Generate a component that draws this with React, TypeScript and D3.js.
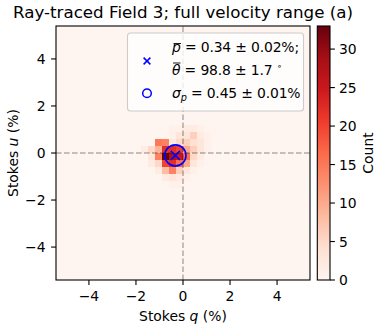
import React from "react";
import * as d3 from "d3";

const W = 389;
const H = 330;
const plot = { left: 56, right: 310, top: 26, bottom: 280 };
const cbar = { left: 317.3, right: 330 };

// 2D histogram of Stokes q/u (%), bins of 0.3%
const binSize = 0.3;
const qBinLeft = [-1.8, -1.5, -1.2, -0.9, -0.6, -0.3, 0.0, 0.3, 0.6, 0.9, 1.2];
const uBinTop = [1.5, 1.2, 0.9, 0.6, 0.3, 0.0, -0.3, -0.6, -0.9, -1.2];
const counts = [
  [0, 0, 0, 0, 0, 0, 0, 0, 0, 0, 0],
  [0, 0, 0, 0, 1, 1, 2, 2, 1, 0, 0],
  [0, 0, 0, 0, 1, 3, 3, 6, 2, 1, 0],
  [0, 0, 15, 14, 2, 5, 6, 4, 3, 1, 0],
  [2, 5, 9, 22, 22, 20, 10, 6, 3, 1, 0],
  [0, 3, 14, 33, 28, 25, 16, 5, 2, 0, 0],
  [0, 2, 5, 20, 22, 16, 10, 3, 1, 0, 0],
  [0, 0, 2, 8, 14, 6, 3, 1, 0, 0, 0],
  [0, 0, 0, 2, 3, 2, 1, 0, 0, 0, 0],
  [0, 0, 0, 0, 1, 1, 0, 0, 0, 0, 0],
];

const meanP = 0.34;
const meanTheta = 98.8; // degrees
const sigmaP = 0.45;

const axisTicks = [-4, -2, 0, 2, 4];
const cbarTicks = [0, 5, 10, 15, 20, 25, 30];
const countMax = 33;
const extent = 5.4;

const font = "DejaVu Sans";
const fmt = (d: number) => (d < 0 ? `\u2212${-d}` : `${d}`);

export default function App() {
  const x = d3.scaleLinear().domain([-extent, extent]).range([plot.left, plot.right]);
  const y = d3.scaleLinear().domain([-extent, extent]).range([plot.bottom, plot.top]);
  const cy = d3.scaleLinear().domain([0, countMax]).range([plot.bottom, plot.top]);
  const reds = d3.schemeReds[9];
  const color = d3
    .scaleLinear<string>()
    .domain(reds.map((_, i) => (i * countMax) / 8))
    .range(reds)
    .interpolate(d3.interpolateRgb);

  // mean polarisation position
  const twoTheta = (2 * meanTheta * Math.PI) / 180;
  const mq = meanP * Math.cos(twoTheta);
  const mu = meanP * Math.sin(twoTheta);
  const mx = x(mq);
  const my = y(mu);
  const xs = 4.6;
  const rPx = x(sigmaP) - x(0);

  const cells: { q: number; u: number; c: number }[] = [];
  counts.forEach((row, i) =>
    row.forEach((c, j) => {
      if (c > 0) cells.push({ q: qBinLeft[j], u: uBinTop[i], c });
    })
  );

  const tickLen = 4.9;
  const lx = 147;

  return (
    <svg
      width={W}
      height={H}
      style={{ position: "absolute", left: 0, top: 0, background: "#fff" }}
      fontFamily={font}
    >
      <defs>
        <linearGradient id="cbarGrad" x1="0" y1="1" x2="0" y2="0">
          {reds.map((c, i) => (
            <stop key={i} offset={i / 8} stopColor={c} />
          ))}
        </linearGradient>
      </defs>

      <text x={(plot.left + plot.right) / 2} y={17.5} fontSize={16.7} textAnchor="middle">
        Ray-traced Field 3; full velocity range (a)
      </text>

      {/* heatmap */}
      <rect
        x={plot.left}
        y={plot.top}
        width={plot.right - plot.left}
        height={plot.bottom - plot.top}
        fill={color(0)}
      />
      {cells.map((d, i) => (
        <rect
          key={i}
          x={x(d.q)}
          y={y(d.u)}
          width={x(d.q + binSize) - x(d.q)}
          height={y(d.u - binSize) - y(d.u)}
          fill={color(d.c)}
          shapeRendering="crispEdges"
        />
      ))}

      {/* zero lines */}
      <line
        x1={x(0)}
        x2={x(0)}
        y1={plot.bottom}
        y2={plot.top}
        stroke="#000"
        strokeOpacity={0.3}
        strokeWidth={1.5}
        strokeDasharray="5.6 2.4"
      />
      <line
        x1={plot.left}
        x2={plot.right}
        y1={y(0)}
        y2={y(0)}
        stroke="#000"
        strokeOpacity={0.3}
        strokeWidth={1.5}
        strokeDasharray="5.6 2.4"
      />

      {/* mean marker and sigma circle */}
      <circle cx={mx} cy={my} r={rPx} fill="none" stroke="blue" strokeWidth={1.6} />
      <path
        d={`M${mx - xs},${my - xs}L${mx + xs},${my + xs}M${mx - xs},${my + xs}L${mx + xs},${my - xs}`}
        stroke="blue"
        strokeWidth={1.6}
      />

      {/* axes frame */}
      <rect
        x={plot.left}
        y={plot.top}
        width={plot.right - plot.left}
        height={plot.bottom - plot.top}
        fill="none"
        stroke="#000"
        strokeWidth={1.1}
      />

      {/* x ticks */}
      {axisTicks.map((t) => (
        <g key={"x" + t}>
          <line x1={x(t)} x2={x(t)} y1={plot.bottom} y2={plot.bottom + tickLen} stroke="#000" strokeWidth={1.1} />
          <text x={x(t)} y={301} fontSize={13.9} textAnchor="middle">
            {fmt(t)}
          </text>
        </g>
      ))}
      <text x={(plot.left + plot.right) / 2} y={321} fontSize={13.9} textAnchor="middle">
        Stokes <tspan fontStyle="italic">q</tspan> (%)
      </text>

      {/* y ticks */}
      {axisTicks.map((t) => (
        <g key={"y" + t}>
          <line x1={plot.left - tickLen} x2={plot.left} y1={y(t)} y2={y(t)} stroke="#000" strokeWidth={1.1} />
          <text x={45.5} y={y(t)} dy="0.36em" fontSize={13.9} textAnchor="end">
            {fmt(t)}
          </text>
        </g>
      ))}
      <text
        transform={`translate(18,${(plot.top + plot.bottom) / 2}) rotate(-90)`}
        fontSize={13.9}
        textAnchor="middle"
      >
        Stokes <tspan fontStyle="italic">u</tspan> (%)
      </text>

      {/* legend */}
      <rect x={127.5} y={33} width={176} height={78} rx={3} fill="#fff" fillOpacity={0.8} stroke="#ccc" strokeWidth={1.1} />
      <path
        d={`M${lx - 3.4},${61 - 3.4}L${lx + 3.4},${61 + 3.4}M${lx - 3.4},${61 + 3.4}L${lx + 3.4},${61 - 3.4}`}
        stroke="blue"
        strokeWidth={1.5}
      />
      <circle cx={lx} cy={93.3} r={4.3} fill="none" stroke="blue" strokeWidth={1.5} />
      <g fontSize={13.9}>
        <text x={172} y={51.7} letterSpacing={-0.15}>
          <tspan fontStyle="italic">p</tspan> = 0.34 ± 0.02%;
        </text>
        <line x1={173.5} x2={181} y1={43.5} y2={43.5} stroke="#000" strokeWidth={0.9} />
        <text x={172} y={75} letterSpacing={-0.15}>
          <tspan fontStyle="italic">θ</tspan> = 98.8 ± 1.7 <tspan fontSize={9} dy={-6}>∘</tspan>
        </text>
        <line x1={173} x2={180.5} y1={63} y2={63} stroke="#000" strokeWidth={0.9} />
        <text x={172} y={97.7} letterSpacing={-0.15}>
          <tspan fontStyle="italic">σ</tspan>
          <tspan fontStyle="italic" fontSize={9.7} dy={3}>p</tspan>
          <tspan dy={-3}> = 0.45 ± 0.01%</tspan>
        </text>
      </g>

      {/* colorbar */}
      <rect
        x={cbar.left}
        y={plot.top}
        width={cbar.right - cbar.left}
        height={plot.bottom - plot.top}
        fill="url(#cbarGrad)"
        stroke="#000"
        strokeWidth={1.1}
      />
      {cbarTicks.map((t) => (
        <g key={"c" + t}>
          <line x1={cbar.right} x2={cbar.right + tickLen} y1={cy(t)} y2={cy(t)} stroke="#000" strokeWidth={1.1} />
          <text x={339} y={cy(t)} dy="0.36em" fontSize={13.9}>
            {t}
          </text>
        </g>
      ))}
      <text transform={`translate(373,${(plot.top + plot.bottom) / 2}) rotate(-90)`} fontSize={13.9} textAnchor="middle">
        Count
      </text>
    </svg>
  );
}
